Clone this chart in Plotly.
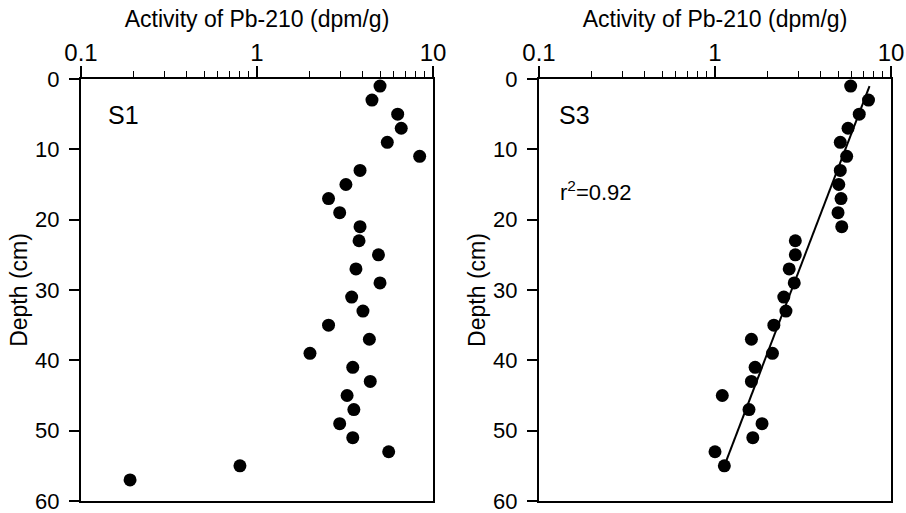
import plotly.graph_objects as go

# Data
s1_depth = [1, 3, 5, 7, 9, 11, 13, 15, 17, 19, 21, 23, 25, 27, 29, 31, 33, 35, 37, 39,
            41, 43, 45, 47, 49, 51, 53, 55, 57]
s1_activity = [5.0, 4.5, 6.3, 6.6, 5.5, 8.4, 3.85, 3.2, 2.55, 2.95, 3.85, 3.8, 4.9, 3.65,
               5.0, 3.45, 4.0, 2.55, 4.35, 2.0, 3.5, 4.4, 3.25, 3.55, 2.95, 3.5, 5.6, 0.80, 0.19]

s3_depth = [1, 3, 5, 7, 9, 11, 13, 15, 17, 19, 21, 23, 25, 27, 29, 31, 33, 35, 37, 39,
            41, 43, 45, 47, 49, 51, 53, 55]
s3_activity = [5.9, 7.45, 6.6, 5.7, 5.15, 5.6, 5.15, 5.05, 5.2, 5.0, 5.25, 2.86, 2.86, 2.64,
               2.82, 2.46, 2.53, 2.16, 1.61, 2.12, 1.69, 1.61, 1.10, 1.56, 1.85, 1.64, 1.00, 1.13]

fit_activity = [1.13, 7.55]
fit_depth = [55, 1]

x_tickvals = [0.1, 1, 10]
x_ticktext = ["0.1", "1", "10"]
y_tickvals = [0, 10, 20, 30, 40, 50, 60]
minor_vals = [0.2, 0.3, 0.4, 0.5, 0.6, 0.7, 0.8, 0.9, 2, 3, 4, 5, 6, 7, 8, 9]

FONT = "Liberation Sans, Arial, Helvetica, sans-serif"
W, H = 906, 513

fig = go.Figure()
marker = dict(color="black", size=13, line=dict(width=0))
fig.add_trace(go.Scatter(x=s1_activity, y=s1_depth, mode="markers", marker=marker,
                         xaxis="x", yaxis="y", showlegend=False))
fig.add_trace(go.Scatter(x=s3_activity, y=s3_depth, mode="markers", marker=marker,
                         xaxis="x2", yaxis="y2", showlegend=False))
fig.add_trace(go.Scatter(x=fit_activity, y=fit_depth, mode="lines",
                         line=dict(color="black", width=2),
                         xaxis="x2", yaxis="y2", showlegend=False))

def xax(domain, anchor):
    return dict(domain=domain, anchor=anchor, type="log", range=[-1, 1], side="top",
                automargin=False, ticklabeloverflow="allow",
                tickvals=x_tickvals, ticktext=x_ticktext, ticks="outside", ticklen=11,
                tickwidth=1.5, tickcolor="black", ticklabelstandoff=-5,
                minor=dict(tickvals=minor_vals, ticks="outside", ticklen=6,
                           tickwidth=1.2, tickcolor="black", showgrid=False),
                showline=True, linecolor="black", linewidth=2, mirror=True,
                showgrid=False, zeroline=False,
                tickfont=dict(family=FONT, size=24, color="black"),
                title=dict(text="Activity of Pb-210 (dpm/g)", standoff=5,
                           font=dict(family=FONT, size=23, color="black")))

def yax(domain, anchor):
    return dict(domain=domain, anchor=anchor, range=[60, 0], tickvals=y_tickvals,
                automargin=False, ticklabeloverflow="allow",
                ticks="outside", ticklen=10, tickwidth=1.5, tickcolor="black",
                ticklabelstandoff=5,
                showline=True, linecolor="black", linewidth=2, mirror=True,
                showgrid=False, zeroline=False,
                tickfont=dict(family=FONT, size=22, color="black"),
                title=dict(text="Depth (cm)", standoff=1,
                           font=dict(family=FONT, size=23, color="black")))

ybot, ytop = 12 / H, 434 / H
fig.update_layout(
    width=W, height=H, margin=dict(l=0, r=0, t=0, b=0, autoexpand=False),
    paper_bgcolor="white", plot_bgcolor="white",
    xaxis=xax([81 / W, 433 / W], "y"),
    yaxis=yax([ybot, ytop], "x"),
    xaxis2=xax([539 / W, 891 / W], "y2"),
    yaxis2=yax([ybot, ytop], "x2"),
    annotations=[
        dict(text="S1", xref="x domain", yref="y domain", x=0.072, y=0.915,
             xanchor="left", yanchor="middle", showarrow=False,
             font=dict(family=FONT, size=25, color="black")),
        dict(text="S3", xref="x2 domain", yref="y2 domain", x=0.05, y=0.915,
             xanchor="left", yanchor="middle", showarrow=False,
             font=dict(family=FONT, size=25, color="black")),
        dict(text="r<sup>2</sup>=0.92", xref="x2 domain", yref="y2 domain", x=0.055, y=0.735,
             xanchor="left", yanchor="middle", showarrow=False,
             font=dict(family=FONT, size=22, color="black")),
    ],
)

fig.write_html("out.html", config={"displayModeBar": False},
               post_script="document.body.style.margin='0px';document.body.style.overflow='hidden';")
